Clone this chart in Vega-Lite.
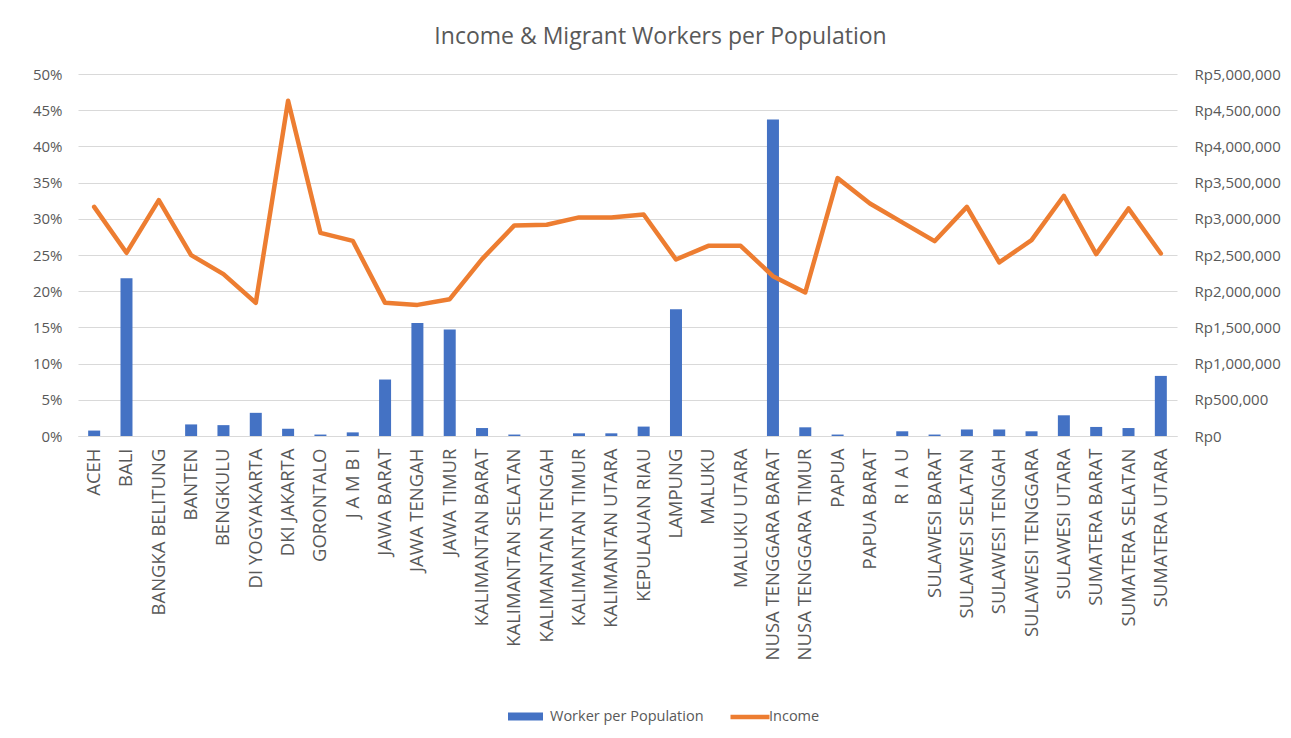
{
  "$schema": "https://vega.github.io/schema/vega-lite/v6.json",
  "width": 1099,
  "height": 362,
  "autosize": {"type": "none"},
  "padding": {"left": 78, "top": 74, "right": 114, "bottom": 302},
  "background": "white",
  "title": {"text": "Income & Migrant Workers per Population", "font": "Open Sans", "fontSize": 23, "fontWeight": "normal", "color": "#595959", "anchor": "middle", "dx": 33, "offset": 18},
  "config": {"view": {"stroke": null}},
  "data": {"values": [
    {"province": "ACEH", "worker": 0.0075, "income": 3165000},
    {"province": "BALI", "worker": 0.218, "income": 2530000},
    {"province": "BANGKA BELITUNG", "worker": 0, "income": 3258000},
    {"province": "BANTEN", "worker": 0.016, "income": 2498000},
    {"province": "BENGKULU", "worker": 0.015, "income": 2235000},
    {"province": "DI YOGYAKARTA", "worker": 0.032, "income": 1839000},
    {"province": "DKI JAKARTA", "worker": 0.010, "income": 4631000},
    {"province": "GORONTALO", "worker": 0.002, "income": 2806000},
    {"province": "J A M B I", "worker": 0.005, "income": 2696000},
    {"province": "JAWA BARAT", "worker": 0.078, "income": 1839000},
    {"province": "JAWA TENGAH", "worker": 0.156, "income": 1811000},
    {"province": "JAWA TIMUR", "worker": 0.147, "income": 1890000},
    {"province": "KALIMANTAN BARAT", "worker": 0.011, "income": 2443000},
    {"province": "KALIMANTAN SELATAN", "worker": 0.002, "income": 2909000},
    {"province": "KALIMANTAN TENGAH", "worker": 0, "income": 2917000},
    {"province": "KALIMANTAN TIMUR", "worker": 0.0037, "income": 3019000},
    {"province": "KALIMANTAN UTARA", "worker": 0.0037, "income": 3019000},
    {"province": "KEPULAUAN RIAU", "worker": 0.013, "income": 3060000},
    {"province": "LAMPUNG", "worker": 0.175, "income": 2438000},
    {"province": "MALUKU", "worker": 0, "income": 2627000},
    {"province": "MALUKU UTARA", "worker": 0, "income": 2627000},
    {"province": "NUSA TENGGARA BARAT", "worker": 0.437, "income": 2208000},
    {"province": "NUSA TENGGARA TIMUR", "worker": 0.012, "income": 1982000},
    {"province": "PAPUA", "worker": 0.002, "income": 3562000},
    {"province": "PAPUA BARAT", "worker": 0, "income": 3212000},
    {"province": "R I A U", "worker": 0.0065, "income": 2950000},
    {"province": "SULAWESI BARAT", "worker": 0.002, "income": 2691000},
    {"province": "SULAWESI SELATAN", "worker": 0.009, "income": 3165000},
    {"province": "SULAWESI TENGAH", "worker": 0.009, "income": 2397000},
    {"province": "SULAWESI TENGGARA", "worker": 0.0065, "income": 2705000},
    {"province": "SULAWESI UTARA", "worker": 0.0286, "income": 3318000},
    {"province": "SUMATERA BARAT", "worker": 0.0125, "income": 2512000},
    {"province": "SUMATERA SELATAN", "worker": 0.011, "income": 3143000},
    {"province": "SUMATERA UTARA", "worker": 0.083, "income": 2521000}
  ]},
  "encoding": {
    "x": {
      "field": "province", "type": "nominal", "sort": null,
      "scale": {"paddingInner": 0, "paddingOuter": 0},
      "axis": {"title": null, "labelAngle": -90, "labelFont": "Open Sans", "labelFontSize": 18.5, "labelColor": "#595959", "labelPadding": 12, "labelLimit": 400, "ticks": false, "domainColor": "#D9D9D9", "domainWidth": 1, "labelOverlap": false}
    }
  },
  "layer": [
    {
      "mark": {"type": "bar", "size": 12},
      "encoding": {
        "y": {
          "field": "worker", "type": "quantitative",
          "scale": {"domain": [0, 0.5], "nice": false},
          "axis": {"title": null, "format": ".0%", "values": [0, 0.05, 0.1, 0.15, 0.2, 0.25, 0.3, 0.35, 0.4, 0.45, 0.5], "labelFont": "Open Sans", "labelFontSize": 15, "labelColor": "#595959", "labelPadding": 16, "ticks": false, "domain": false, "grid": true, "gridColor": "#D9D9D9", "gridWidth": 1}
        },
        "color": {
          "datum": "Worker per Population",
          "scale": {"domain": ["Worker per Population"], "range": ["#4472C4"]},
          "legend": {"orient": "none", "legendX": 430, "legendY": 625, "title": null, "padding": 0, "symbolType": "M-1,-0.23H1V0.23H-1Z", "symbolSize": 1225, "symbolStrokeWidth": 0, "labelFont": "Open Sans", "labelFontSize": 14.5, "labelColor": "#595959", "labelOffset": 7}
        }
      }
    },
    {
      "mark": {"type": "line", "strokeWidth": 4.5, "strokeJoin": "round", "strokeCap": "round"},
      "encoding": {
        "y": {
          "field": "income", "type": "quantitative",
          "scale": {"domain": [0, 5000000], "nice": false},
          "axis": {"orient": "right", "title": null, "values": [0, 500000, 1000000, 1500000, 2000000, 2500000, 3000000, 3500000, 4000000, 4500000, 5000000], "labelExpr": "'Rp' + format(datum.value, ',')", "labelFont": "Open Sans", "labelFontSize": 15, "labelColor": "#595959", "labelPadding": 17, "ticks": false, "domain": false, "grid": false}
        },
        "stroke": {
          "datum": "Income",
          "scale": {"domain": ["Income"], "range": ["#ED7D31"]},
          "legend": {"orient": "none", "legendX": 650, "legendY": 621, "title": null, "padding": 0, "symbolType": "stroke", "symbolSize": 1521, "symbolStrokeWidth": 4.5, "labelFont": "Open Sans", "labelFontSize": 14.5, "labelColor": "#595959", "labelOffset": -3}
        }
      }
    }
  ],
  "resolve": {"scale": {"y": "independent"}}
}
